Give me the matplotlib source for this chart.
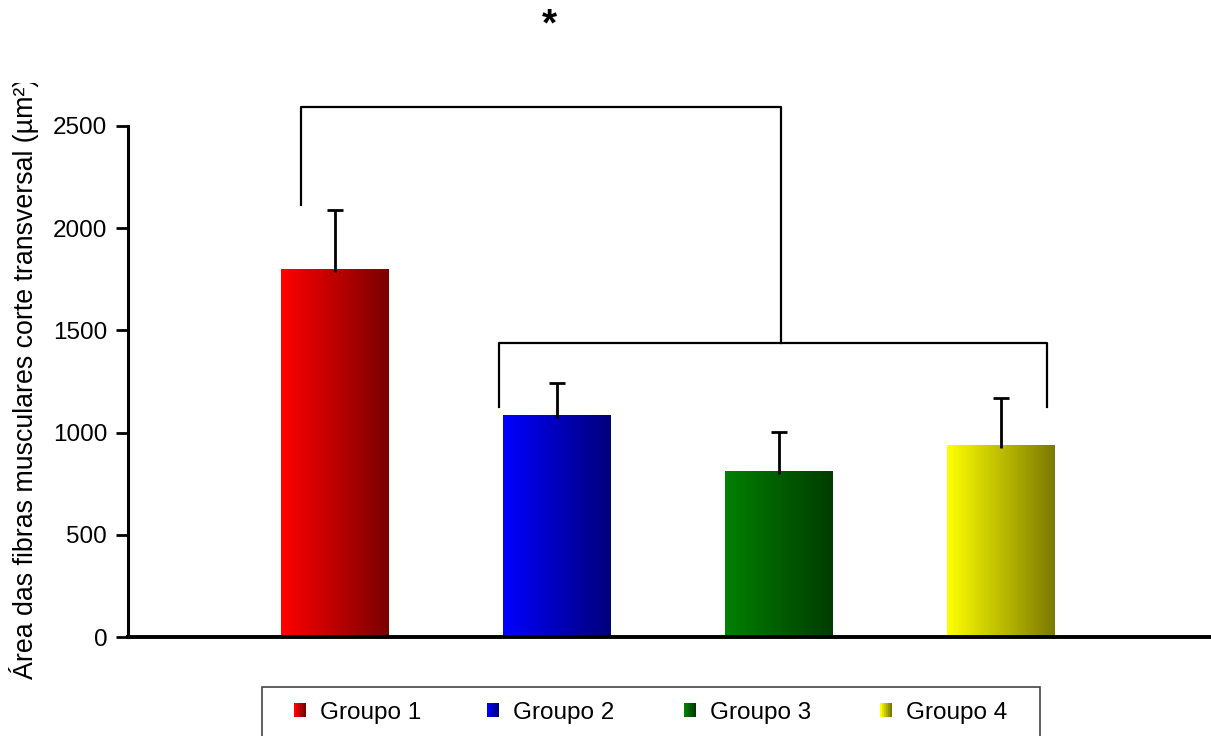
import numpy as np
import matplotlib.pyplot as plt
from matplotlib.colors import LinearSegmentedColormap
from matplotlib.patches import Rectangle
from matplotlib.transforms import Bbox, TransformedBbox

plt.rcParams['font.family'] = ['Liberation Sans', 'DejaVu Sans']

groups = ['Groupo 1', 'Groupo 2', 'Groupo 3', 'Groupo 4']
means = [1800, 1085, 812, 939]
errors = [290, 155, 190, 230]
light = ['#FF0000', '#0000FF', '#008000', '#FFFF00']
dark = ['#7A0000', '#00007A', '#003C00', '#7A7A00']
yticks = [0, 500, 1000, 1500, 2000, 2500]
ylabel = 'Área das fibras musculares corte transversal (µm²)'

W, H = 1211, 736
fig = plt.figure(figsize=(W / 100, H / 100), dpi=100)
ax = fig.add_axes([128 / W, 1 - 637 / H, 1 - 128 / W, (637 - 85) / H])

x = np.arange(1, len(groups) + 1)
width = 0.486
ax.set_xlim(0.0676, 4.946)
ax.set_ylim(0, 2700)

grad = np.linspace(0, 1, 256).reshape(1, -1)
cmaps = [LinearSegmentedColormap.from_list('g%d' % i, [c0, c1])
         for i, (c0, c1) in enumerate(zip(light, dark))]
for xi, m, cmap in zip(x, means, cmaps):
    rect = Rectangle((xi - width / 2, 0), width, m, facecolor='none',
                     edgecolor='none')
    ax.add_patch(rect)
    im = ax.imshow(grad, cmap=cmap, aspect='auto', interpolation='bicubic',
                   extent=(xi - width / 2, xi + width / 2, 0, m), zorder=2)
    im.set_clip_path(rect)

# upper error bars only, with a single cap
cap = 0.036
for xi, m, e in zip(x, means, errors):
    ax.plot([xi, xi], [m - 15, m + e], color='black', lw=2, zorder=3,
            solid_capstyle='butt')
    ax.plot([xi - cap, xi + cap], [m + e, m + e], color='black', lw=2,
            zorder=3, solid_capstyle='butt')

# significance brackets
lw = 1.6
top_y, g1_leg, grp_y, grp_leg = 2593, 2113, 1438, 1125
xl, xr = 0.847, 3.009
gl, gr = 1.739, 4.207
ax.plot([xl, xl, xr, xr], [g1_leg, top_y, top_y, grp_y], color='black',
        lw=lw, clip_on=False, zorder=4)
ax.plot([gl, gl, gr, gr], [grp_leg, grp_y, grp_y, grp_leg], color='black',
        lw=lw, clip_on=False, zorder=4)
fig.text(549 / W, 1 - 25 / H, '*', fontsize=28, fontweight='bold',
         ha='center', va='center')

ax.set_xticks([])
ax.set_yticks(yticks)
ax.tick_params(axis='y', direction='out', length=9, width=2, labelsize=17.5,
               pad=6)
for s in ['top', 'right']:
    ax.spines[s].set_visible(False)
ax.spines['left'].set_bounds(0, 2500)
ax.spines['left'].set_linewidth(2.2)
ax.spines['bottom'].set_linewidth(2.8)

ylab = fig.text(24 / W, 1 - 679 / H, ylabel, rotation=90, fontsize=19.3,
                ha='center', va='bottom')
ylab.set_clip_on(True)
ylab.set_clip_box(TransformedBbox(Bbox([[0, 0], [1, 1 - 83 / H]]),
                                  fig.transFigure))

# legend box
fig.patches.append(Rectangle((262 / W, -0.05), (1040 - 262) / W,
                             (1 - 687 / H) + 0.05, transform=fig.transFigure,
                             facecolor='white', edgecolor='#444444',
                             linewidth=1.2))
mark_x = [294, 487, 684, 880]
mw, mh, my = 12, 14, 710
for mx, name, cmap in zip(mark_x, groups, cmaps):
    n = 6
    for i in range(n):
        fig.patches.append(Rectangle(((mx + i * mw / n) / W, 1 - (my + mh / 2) / H),
                                     (mw / n + 0.4) / W, mh / H,
                                     transform=fig.transFigure,
                                     facecolor=cmap(i / (n - 1)),
                                     edgecolor='none'))
    fig.text((mx + mw + 14) / W, 1 - my / H, name, fontsize=17.5,
             ha='left', va='center_baseline')

fig.savefig('out.png', dpi=100)
